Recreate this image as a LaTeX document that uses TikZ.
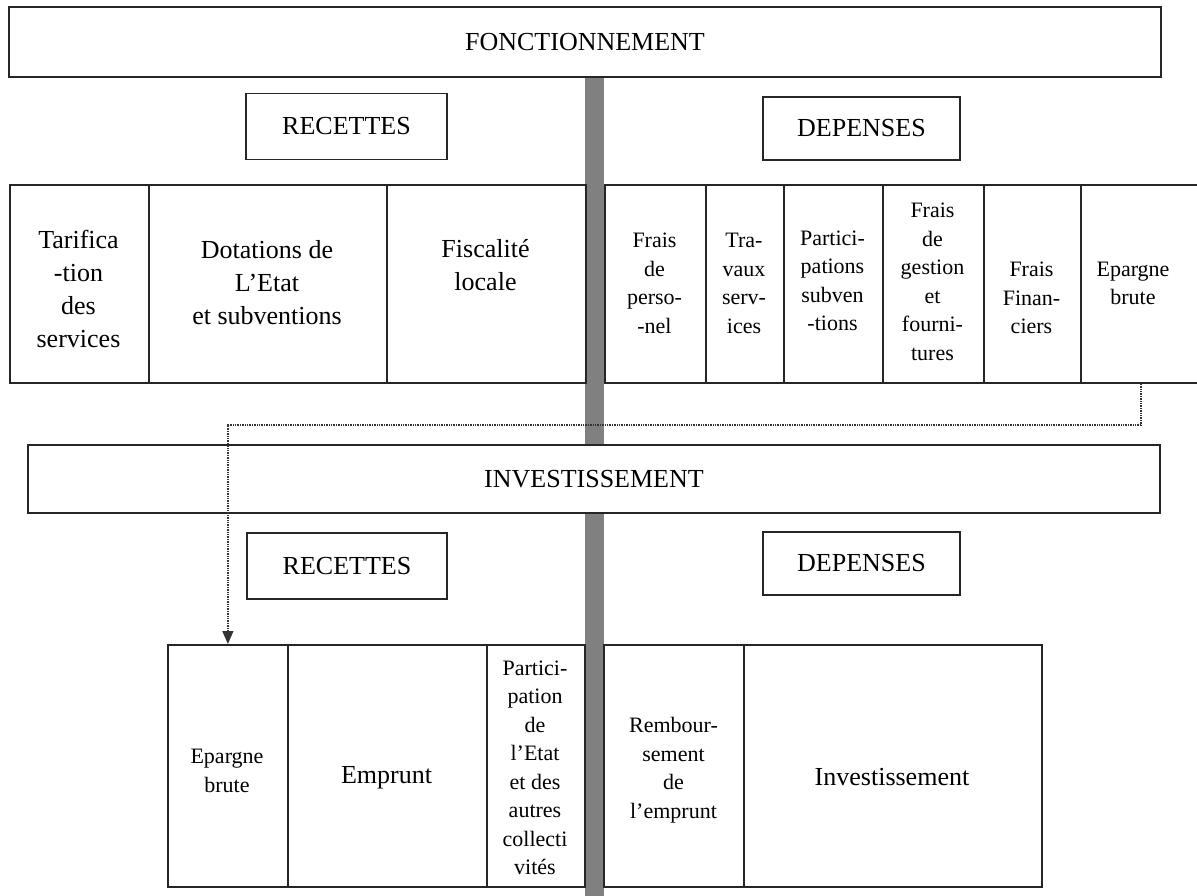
\documentclass[tikz,border=0pt]{standalone}
\usepackage{fontspec}
\setmainfont{Liberation Serif}
\usetikzlibrary{arrows.meta}
\tikzset{
  frame/.style={draw=black!85, line width=1.9pt, fill=white, inner sep=0pt},
  cell/.style={draw=black!85, line width=1.8pt, fill=white, inner sep=0pt, anchor=north west},
  big/.style={font=\fontsize{26}{33}\selectfont, align=center, inner sep=0pt},
  small/.style={font=\fontsize{22}{28.5}\selectfont, align=center, inner sep=0pt},
  link/.style={densely dotted, line width=1.4pt, draw=black!80},
}
\begin{document}
\begin{tikzpicture}[x=1pt,y=-1pt]
\useasboundingbox (0,0) rectangle (1197,896);
% central grey bar
\fill[black!50] (585,76) rectangle (604,896);

% FONCTIONNEMENT
\node[frame, big, minimum width=1152pt, minimum height=70pt] (fonc) at (585,42) {FONCTIONNEMENT};
\node[frame, big, minimum width=201pt, minimum height=66pt] (recF) at (346.5,126.5) {RECETTES};
\node[frame, big, minimum width=197pt, minimum height=63pt] (depF) at (861.5,128.5) {DEPENSES};

% top left table
\node[cell, minimum width=139pt, minimum height=198pt] (tl1) at (9,184) {};
\node[cell, minimum width=238pt, minimum height=198pt] (tl2) at (148,184) {};
\node[cell, minimum width=199pt, minimum height=198pt] (tl3) at (386,184) {};
\node[big] (tl1t) at (78.5,289) {Tarifica\\-tion\\des\\services};
\node[big] (tl2t) at (267,283) {Dotations de\\L’Etat\\et subventions};
\node[big] (tl3t) at (485.5,265) {Fiscalité\\locale};

% top right table
\node[cell, minimum width=101pt, minimum height=198pt] (tr1) at (604,184) {};
\node[cell, minimum width=78pt, minimum height=198pt] (tr2) at (705,184) {};
\node[cell, minimum width=99pt, minimum height=198pt] (tr3) at (783,184) {};
\node[cell, minimum width=101pt, minimum height=198pt] (tr4) at (882,184) {};
\node[cell, minimum width=97pt, minimum height=198pt] (tr5) at (983,184) {};
\node[cell, minimum width=120pt, minimum height=198pt] (tr6) at (1080,184) {};
\node[small] (tr1t) at (654.5,283.5) {Frais\\de\\perso-\\-nel};
\node[small] (tr2t) at (744,283.5) {Tra-\\vaux\\serv-\\ices};
\node[small] (tr3t) at (832.5,281) {Partici-\\pations\\subven\\-tions};
\node[small] (tr4t) at (932.5,282) {Frais\\de\\gestion\\et\\fourni-\\tures};
\node[small] (tr5t) at (1031.5,298) {Frais\\Finan-\\ciers};
\node[small] (tr6t) at (1133,283.5) {Epargne\\brute};

% INVESTISSEMENT
\node[frame, big, minimum width=1132pt, minimum height=68pt] (inv) at (594,479) {INVESTISSEMENT};
\node[frame, big, minimum width=200pt, minimum height=66pt] (recI) at (347,566) {RECETTES};
\node[frame, big, minimum width=197pt, minimum height=63pt] (depI) at (861.5,563.5) {DEPENSES};

% bottom left table
\node[cell, minimum width=120pt, minimum height=242pt] (bl1) at (167,644) {};
\node[cell, minimum width=199pt, minimum height=242pt] (bl2) at (287,644) {};
\node[cell, minimum width=98pt, minimum height=242pt] (bl3) at (486,644) {};
\node[small] (bl1t) at (227,771) {Epargne\\brute};
\node[big] (bl2t) at (386.5,778) {Emprunt};
\node[small] (bl3t) at (535,768) {Partici-\\pation\\de\\l’Etat\\et des\\autres\\collecti\\vités};

% bottom right table
\node[cell, minimum width=140pt, minimum height=242pt] (br1) at (603,644) {};
\node[cell, minimum width=298pt, minimum height=242pt] (br2) at (743,644) {};
\node[small] (br1t) at (673.5,770) {Rembour-\\sement\\de\\l’emprunt};
\node[big] (br2t) at (892,777) {Investissement};

% dotted transfer of the gross savings
\draw[link, -{Triangle[length=13pt,width=11pt]}] (tr6.south) -- ++(0,41) -| (bl1.north);
\end{tikzpicture}
\end{document}
